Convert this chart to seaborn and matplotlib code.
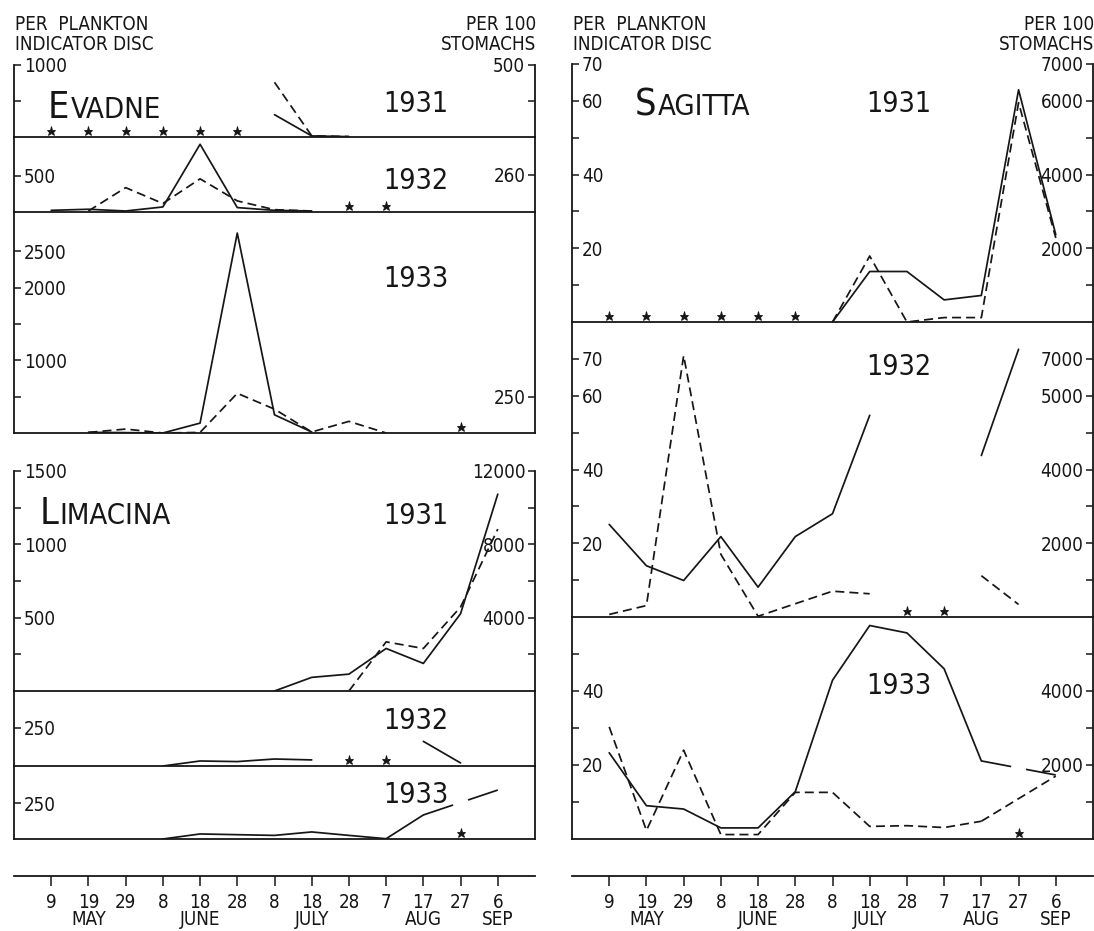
import numpy as np
import matplotlib
matplotlib.use("Agg")
import matplotlib.pyplot as plt
import matplotlib.transforms as mtransforms
from matplotlib import font_manager
import seaborn as sns

nan = np.nan

# ---- sampling dates (ten-day intervals, 9 May to 6 Sep) ----
DAYS = ["9", "19", "29", "8", "18", "28", "8", "18", "28", "7", "17", "27", "6"]
MONTHS = ["", "MAY", "", "", "JUNE", "", "", "JULY", "", "", "AUG", "", "SEP"]

# ---- Evadne: disc = per plankton indicator disc, stom = per 100 stomachs ----
EVADNE_1931_DISC = [nan, nan, nan, nan, nan, nan, 310, 15, 5, nan, nan, nan, nan]
EVADNE_1931_STOM = [nan, nan, nan, nan, nan, nan, 380, 8, 3, nan, nan, nan, nan]
EVADNE_1931_NIL = [0, 1, 2, 3, 4, 5]

EVADNE_1932_DISC = [23, 38, 14, 70, 939, 61, 23, 14, nan, nan, nan, nan, nan]
EVADNE_1932_STOM = [nan, 7, 169, 59, 230, 77, 16, 7, nan, nan, nan, nan, nan]
EVADNE_1932_NIL = [8, 9]

EVADNE_1933_DISC = [nan, 9, 5, 0, 136, 2750, 250, 14, nan, nan, nan, nan, nan]
EVADNE_1933_STOM = [nan, 4, 27, 0, 4, 273, 164, 7, 80, 0, nan, nan, nan]
EVADNE_1933_NIL = [11]

# ---- Limacina ----
LIMACINA_1931_DISC = [nan, nan, nan, nan, nan, nan, 0, 93, 115, 290, 188, 527, 1342]
LIMACINA_1931_STOM = [nan, nan, nan, nan, nan, nan, nan, nan, 0, 2680, 2320, 4580, 8830]

LIMACINA_1932_DISC = [nan, nan, nan, 0, 33, 29, 46, 40, nan, nan, 162, 20, nan]
LIMACINA_1932_NIL = [8, 9]

LIMACINA_1933_DISC = [nan, nan, nan, 0, 35, 30, 25, 49, 25, 2, 167, nan, 340]
LIMACINA_1933_NIL = [11]

# ---- Sagitta ----
SAGITTA_1931_DISC = [nan, nan, nan, nan, nan, nan, 0, 13.7, 13.7, 6.0, 7.2, 63, 23.7]
SAGITTA_1931_STOM = [nan, nan, nan, nan, nan, nan, 0, 1790, 0, 120, 120, 5950, 2280]
SAGITTA_1931_NIL = [0, 1, 2, 3, 4, 5]

SAGITTA_1932_DISC = [25.1, 13.9, 9.9, 21.8, 8.1, 21.8, 28.0, 54.7, nan, nan, 43.8, 72.6, nan]
SAGITTA_1932_STOM = [70, 310, 7090, 1700, 20, 360, 700, 630, nan, nan, 1120, 340, nan]
SAGITTA_1932_NIL = [8, 9]

SAGITTA_1933_DISC = [23.3, 9.0, 8.1, 3.0, 3.0, 12.8, 42.9, 57.7, 55.7, 46.0, 21.1, nan, 17.3]
SAGITTA_1933_STOM = [3030, 230, 2400, 120, 120, 1260, 1260, 340, 360, 310, 480, nan, 1700]
SAGITTA_1933_NIL = [11]

# ---------------------------------------------------------------------------
sns.set_style("white")


def _pick_face():
    fonts = font_manager.fontManager.ttflist
    names = {f.name for f in fonts}
    if "Liberation Sans Narrow" in names:
        return "Liberation Sans Narrow", "normal"
    if any(f.name == "DejaVu Sans" and f.stretch == "condensed" for f in fonts):
        return "DejaVu Sans", "condensed"
    if "Roboto Condensed" in names:
        return "Roboto Condensed", "normal"
    if "Liberation Sans" in names:
        return "Liberation Sans", "normal"
    return "DejaVu Sans", "normal"


FACE, STRETCH = _pick_face()
plt.rcParams["font.family"] = [FACE, "DejaVu Sans"]
plt.rcParams["font.stretch"] = STRETCH

W, H, DPI = 1094, 931, 100
fig = plt.figure(figsize=(W / DPI, H / DPI), dpi=DPI)
fig.patch.set_facecolor("white")

INK = "#161616"
LW = 1.25
DASH = (0, (5.2, 2.9))
TICK_FS = 13.5
LEFT_X = (14, 535)
RIGHT_X = (572, 1093)


def px_axes(x0, x1, ytop, ybot):
    return fig.add_axes([x0 / W, 1 - ybot / H, (x1 - x0) / W, (ybot - ytop) / H])


def ftext(x, y, s, **kw):
    kw.setdefault("color", INK)
    return fig.text(x / W, 1 - y / H, s, **kw)


def draw_series(ax, values, dashed, bridged):
    y = np.asarray(values, float)
    x = np.arange(len(y))
    ok = ~np.isnan(y)
    ls = DASH if dashed else "-"
    start = None
    for i in range(len(y) + 1):
        if i < len(y) and ok[i]:
            if start is None:
                start = i
        else:
            if start is not None and i - start >= 2:
                sns.lineplot(x=x[start:i], y=y[start:i], ax=ax, color=INK,
                             linewidth=LW, linestyle=ls, estimator=None,
                             errorbar=None, sort=False)
            start = None
    # a missing sample is bridged by a straight line with a break in its middle
    for i in bridged:
        prev = [k for k in range(i) if ok[k]]
        nxt = [k for k in range(i + 1, len(y)) if ok[k]]
        if not prev or not nxt:
            continue
        idx = [prev[-1], nxt[0]]
        if dashed:
            bls = DASH
        else:
            p = ax.transData.transform(np.column_stack([x[idx], y[idx]]))
            length_pt = np.hypot(*(p[1] - p[0])) * 72 / fig.dpi
            bls = (0, (0.4 * length_pt / LW, 0.2 * length_pt / LW))
        sns.lineplot(x=x[idx], y=y[idx], ax=ax, color=INK, linewidth=LW,
                     linestyle=bls, estimator=None, errorbar=None, sort=False)


def draw_nil(ax, idx):
    lift = mtransforms.ScaledTranslation(0, 4.5 / 72, fig.dpi_scale_trans)
    ax.plot(idx, np.zeros(len(idx)), linestyle="none", marker="*", ms=6.5,
            color=INK, mew=0.6, transform=ax.transData + lift, clip_on=False)


def panel(xr, yr, disc, stom, nil, bridged, ylim, yt, yl, rlim, rt, rl):
    ax = px_axes(xr[0], xr[1], yr[0], yr[1])
    ax2 = ax.twinx()
    for a in (ax, ax2):
        a.patch.set_visible(False)
    ax.set_xlim(-1, 13)
    ax.set_ylim(0, ylim)
    ax2.set_ylim(0, rlim)
    for s in ("top", "right"):
        ax.spines[s].set_visible(False)
    for s in ("top", "left", "bottom"):
        ax2.spines[s].set_visible(False)
    for sp in (ax.spines["left"], ax.spines["bottom"], ax2.spines["right"]):
        sp.set_color(INK)
        sp.set_linewidth(1.3)
    ax.set_xticks([])
    ax.set_yticks(yt)
    ax.set_yticklabels(yl, ha="left")
    ax.tick_params(axis="y", left=True, direction="in", length=5, width=1.1, pad=-7,
                   colors=INK, labelsize=TICK_FS)
    ax2.set_yticks(rt)
    ax2.set_yticklabels(rl, ha="right")
    ax2.tick_params(axis="y", right=True, direction="in", length=5, width=1.1, pad=-7,
                    colors=INK, labelsize=TICK_FS)
    if disc is not None:
        draw_series(ax, disc, False, bridged)
    if stom is not None:
        draw_series(ax2, stom, True, bridged)
    if nil:
        draw_nil(ax, nil)
    ax.set_xlim(-1, 13)
    ax.set_ylim(0, ylim)
    ax2.set_ylim(0, rlim)
    for a in (ax, ax2):
        a.set_xlabel("")
        a.set_ylabel("")
    return ax


def time_axis(xr, y):
    ax = px_axes(xr[0], xr[1], y - 6, y)
    ax.patch.set_visible(False)
    for s in ("top", "left", "right"):
        ax.spines[s].set_visible(False)
    ax.spines["bottom"].set_color(INK)
    ax.spines["bottom"].set_linewidth(1.3)
    ax.set_xlim(-1, 13)
    ax.set_yticks([])
    labels = [f"{d}\n{m}" if m else d for d, m in zip(DAYS, MONTHS)]
    ax.set_xticks(range(len(DAYS)))
    ax.set_xticklabels(labels, linespacing=0.88)
    ax.tick_params(axis="x", bottom=True, direction="out", length=7, width=1.1, pad=5,
                   colors=INK, labelsize=TICK_FS)


def species(x, y, name):
    t = ftext(x, y, name[0], size=27, ha="left", va="baseline")
    bb = t.get_window_extent(renderer=fig.canvas.get_renderer())
    ftext(bb.x1 + 1, y, name[1:], size=21, ha="left", va="baseline")


# ---- Evadne column ----
panel(LEFT_X, (65, 137), EVADNE_1931_DISC, EVADNE_1931_STOM, EVADNE_1931_NIL, [],
      1000, [500, 1000], ["", "1000"], 500, [250, 500], ["", "500"])
panel(LEFT_X, (137, 212), EVADNE_1932_DISC, EVADNE_1932_STOM, EVADNE_1932_NIL, [],
      1040, [500], ["500"], 520, [260], ["260"])
panel(LEFT_X, (212, 433), EVADNE_1933_DISC, EVADNE_1933_STOM, EVADNE_1933_NIL, [],
      3040, [500, 1000, 1500, 2000, 2500], ["", "1000", "", "2000", "2500"],
      1520, [250], ["250"])

# ---- Limacina column ----
panel(LEFT_X, (471, 691), LIMACINA_1931_DISC, LIMACINA_1931_STOM, [], [],
      1500, [250, 500, 750, 1000, 1250, 1500], ["", "500", "", "1000", "", "1500"],
      12000, [2000, 4000, 6000, 8000, 10000, 12000], ["", "4000", "", "8000", "", "12000"])
panel(LEFT_X, (691, 766), LIMACINA_1932_DISC, None, LIMACINA_1932_NIL, [],
      493, [250], ["250"], 1, [], [])
panel(LEFT_X, (766, 839), LIMACINA_1933_DISC, None, LIMACINA_1933_NIL, [11],
      507, [250], ["250"], 1, [], [])

# ---- Sagitta column ----
panel(RIGHT_X, (64, 322), SAGITTA_1931_DISC, SAGITTA_1931_STOM, SAGITTA_1931_NIL, [],
      70, [10, 20, 30, 40, 50, 60, 70], ["", "20", "", "40", "", "60", "70"],
      7000, [1000, 2000, 3000, 4000, 5000, 6000, 7000], ["", "2000", "", "4000", "", "6000", "7000"])
panel(RIGHT_X, (322, 617), SAGITTA_1932_DISC, SAGITTA_1932_STOM, SAGITTA_1932_NIL, [],
      80, [10, 20, 30, 40, 50, 60, 70], ["", "20", "", "40", "", "60", "70"],
      8000, [1000, 2000, 3000, 4000, 5000, 6000, 7000], ["", "2000", "", "4000", "", "5000", "7000"])
panel(RIGHT_X, (617, 839), SAGITTA_1933_DISC, SAGITTA_1933_STOM, SAGITTA_1933_NIL, [11],
      60, [10, 20, 30, 40, 50], ["", "20", "", "40", ""],
      6000, [1000, 2000, 3000, 4000, 5000], ["", "2000", "", "4000", ""])

time_axis(LEFT_X, 876)
time_axis(RIGHT_X, 876)

# ---- headings ----
HEAD_FS = 13.5
for x0, x1 in (LEFT_X, RIGHT_X):
    ftext(x0 + 1, 30, "PER  PLANKTON", size=HEAD_FS, ha="left", va="baseline")
    ftext(x0 + 1, 50, "INDICATOR DISC", size=HEAD_FS, ha="left", va="baseline")
    ftext(x1 + 1, 30, "PER 100", size=HEAD_FS, ha="right", va="baseline")
    ftext(x1 + 1, 50, "STOMACHS", size=HEAD_FS, ha="right", va="baseline")

species(48, 118, "EVADNE")
species(40, 524, "LIMACINA")
species(635, 115, "SAGITTA")

YEAR_FS = 20.5
for yb, yr in ((112, "1931"), (189, "1932"), (287, "1933"),
               (524, "1931"), (729, "1932"), (803, "1933")):
    ftext(383, yb, yr, size=YEAR_FS, ha="left", va="baseline")
for yb, yr in ((112, "1931"), (375, "1932"), (694, "1933")):
    ftext(866, yb, yr, size=YEAR_FS, ha="left", va="baseline")

fig.savefig("out.png", dpi=DPI, facecolor="white")
